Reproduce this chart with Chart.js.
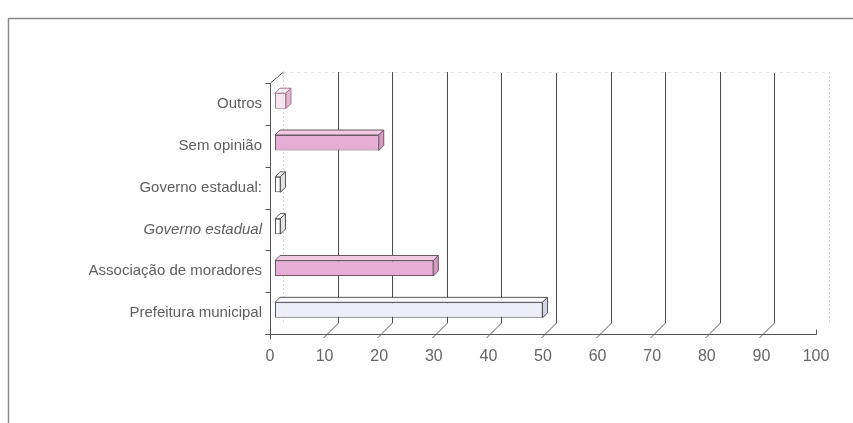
<!DOCTYPE html>
<html>
<head>
<meta charset="utf-8">
<script src="https://cdn.jsdelivr.net/npm/chart.js@4.4.1/dist/chart.umd.min.js"></script>
<style>
  html, body { margin: 0; padding: 0; background: #fff; }
  #wrap { width: 853px; height: 423px; position: relative; }
</style>
</head>
<body>
<div id="wrap"><canvas id="chart" width="853" height="423"></canvas></div>
<script>
// Categories listed top to bottom
const categories = [
  "Outros",
  "Sem opinião",
  "Governo estadual:",
  "Governo estadual",
  "Associação de moradores",
  "Prefeitura municipal",
];
const percentages = [2, 19, 1, 1, 29, 49];
const xTicks = [0, 10, 20, 30, 40, 50, 60, 70, 80, 90, 100];

// Front / top / side colours of each bar
const frontColors = ["#f7e4ef", "#e8add4", "#ffffff", "#ffffff", "#e8add4", "#eeeef8"];
const topColors = ["#fbeff6", "#f1c9e3", "#ffffff", "#ffffff", "#f1c9e3", "#f7f7fc"];
const sideColors = ["#e2b9d2", "#d399c0", "#e4e4e4", "#e4e4e4", "#d399c0", "#d3d3e6"];
const edgeColors = ["#a8708f", "#6b5a64", "#555555", "#555555", "#6b5a64", "#555555"];

const WALL_DX = 13, WALL_DY = 11; // back wall offset
const BAR_DX = 5, BAR_DY = 3;     // bar front face offset
const DEPTH_X = 5, DEPTH_Y = 5;   // bar depth

function line(ctx, x1, y1, x2, y2) {
  ctx.beginPath();
  ctx.moveTo(x1, y1);
  ctx.lineTo(x2, y2);
  ctx.stroke();
}

const box3d = {
  id: "box3d",
  beforeDatasetsDraw(chart) {
    const { ctx, chartArea: a, scales: { x } } = chart;
    ctx.save();

    // outer frame
    ctx.strokeStyle = "#8a8a8a";
    ctx.lineWidth = 1.5;
    line(ctx, 8, 18.5, 853, 18.5);
    line(ctx, 8.5, 18, 8.5, 423);

    // back wall grid lines and their slanted joins to the floor ticks
    ctx.lineWidth = 1;
    xTicks.forEach((v) => {
      const px = Math.round(x.getPixelForValue(v)) + 0.5;
      const bx = px + WALL_DX;
      if (v === 0 || v === 100) {
        ctx.strokeStyle = "#d4d4d4";
        ctx.setLineDash([2, 2]);
      } else {
        ctx.strokeStyle = "#4a4a4a";
        ctx.setLineDash([]);
      }
      line(ctx, bx, a.top - WALL_DY, bx, a.bottom - WALL_DY);
      ctx.setLineDash([]);
      ctx.strokeStyle = "#5a5a5a";
      if (v > 0 && v < 100) line(ctx, px - 2, a.bottom + 4, bx, a.bottom - WALL_DY);
    });

    // faint top edge of the back wall
    ctx.strokeStyle = "#e6e6e6";
    ctx.setLineDash([3, 4]);
    line(ctx, a.left + WALL_DX, a.top - WALL_DY + 0.5, x.getPixelForValue(100) + WALL_DX, a.top - WALL_DY + 0.5);
    ctx.setLineDash([]);

    // left wall edge and category marks
    const left = Math.round(a.left) + 0.5;
    ctx.strokeStyle = "#555";
    line(ctx, left, a.top, left, a.bottom);
    line(ctx, left, a.top, left + WALL_DX, a.top - WALL_DY);
    const step = (a.bottom - a.top) / categories.length;
    for (let i = 0; i <= categories.length; i++) {
      const py = Math.round(a.top + i * step) + 0.5;
      line(ctx, left - 5, py, left, py);
    }

    // floor axis
    const by = Math.round(a.bottom) + 0.5;
    const end = Math.round(x.getPixelForValue(100)) + 0.5;
    line(ctx, left - 5, by, end, by);
    line(ctx, left, by, left, by + 5);
    line(ctx, end, by - 5, end, by);

    ctx.restore();
    ctx.save();
    ctx.translate(BAR_DX, -BAR_DY);
  },
  afterDatasetsDraw(chart) {
    const { ctx } = chart;
    ctx.restore();
    ctx.save();
    ctx.translate(BAR_DX, -BAR_DY);
    ctx.lineWidth = 1;
    chart.getDatasetMeta(0).data.forEach((bar, i) => {
      const h = bar.height;
      const l = bar.base, r = bar.x;
      const t = bar.y - h / 2, b = bar.y + h / 2;
      ctx.strokeStyle = edgeColors[i];

      // top face
      ctx.fillStyle = topColors[i];
      ctx.beginPath();
      ctx.moveTo(l, t);
      ctx.lineTo(l + DEPTH_X, t - DEPTH_Y);
      ctx.lineTo(r + DEPTH_X, t - DEPTH_Y);
      ctx.lineTo(r, t);
      ctx.closePath();
      ctx.fill();
      ctx.stroke();

      // side face
      ctx.fillStyle = sideColors[i];
      ctx.beginPath();
      ctx.moveTo(r, t);
      ctx.lineTo(r + DEPTH_X, t - DEPTH_Y);
      ctx.lineTo(r + DEPTH_X, b - DEPTH_Y);
      ctx.lineTo(r, b);
      ctx.closePath();
      ctx.fill();
      ctx.stroke();
    });
    ctx.restore();
  },
};

new Chart(document.getElementById("chart"), {
  type: "bar",
  data: {
    labels: categories,
    datasets: [
      {
        data: percentages,
        backgroundColor: frontColors,
        borderColor: edgeColors,
        borderWidth: 1,
        borderSkipped: false,
        barPercentage: 0.37,
        categoryPercentage: 1,
      },
    ],
  },
  options: {
    indexAxis: "y",
    responsive: false,
    animation: false,
    layout: { padding: { left: 0, right: 37, top: 83, bottom: 49 } },
    plugins: { legend: { display: false }, tooltip: { enabled: false } },
    scales: {
      x: {
        min: 0,
        max: 100,
        afterFit: (scale) => { scale.height = 40; },
        afterBuildTicks: (scale) => {
          scale.ticks = xTicks.map((v) => ({ value: v }));
        },
        grid: { display: false, drawTicks: false },
        border: { display: false },
        ticks: {
          padding: 13,
          color: "#666",
          font: { family: "Liberation Sans, Arial, sans-serif", size: 16 },
        },
      },
      y: {
        afterFit: (scale) => { scale.width = 270; },
        grid: { display: false, drawTicks: false },
        border: { display: false },
        ticks: {
          padding: 8,
          color: "#5e5e5e",
          font: (c) => ({
            family: "Liberation Sans, Arial, sans-serif",
            size: 15,
            style: c.index === 3 ? "italic" : "normal",
          }),
        },
      },
    },
  },
  plugins: [box3d],
});
</script>
</body>
</html>
